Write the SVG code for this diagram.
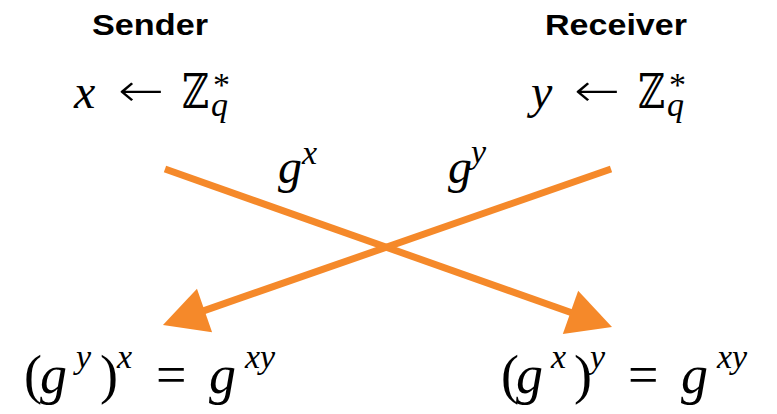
<svg xmlns="http://www.w3.org/2000/svg" width="777" height="414" viewBox="0 0 777 414">
<style>
.lbl{font-family:"Liberation Sans","Arial",sans-serif;font-weight:bold;font-size:29px;fill:#000}
.m{font-family:"Liberation Serif","DejaVu Serif",serif;font-style:italic;font-size:48px;fill:#000}
.b{font-size:54px}
.r{font-style:normal}
.ar{font-family:"DejaVu Sans",sans-serif;font-style:normal;font-weight:200;font-size:46px}
.s{font-size:34px}
.edge{stroke:#F5892A;stroke-width:7;fill:none}
</style>
<defs>
<marker id="ah" markerUnits="userSpaceOnUse" orient="auto" markerWidth="50" markerHeight="50" refX="14" refY="0" viewBox="0 -25 46 50">
<path d="M0,-23 L44,0 L0,23 Z" fill="#F5892A"/>
</marker>
</defs>
<rect width="777" height="414" fill="#fff"/>
<g id="sender">
<text class="lbl" x="150" y="35" text-anchor="middle" textLength="116" lengthAdjust="spacingAndGlyphs">Sender</text>
<text class="m" x="74" y="108">x</text>
<text class="m ar" x="118" y="106" textLength="46" lengthAdjust="spacingAndGlyphs">←</text>
<text class="m r" x="182" y="108" font-size="44" textLength="27" lengthAdjust="spacingAndGlyphs">ℤ</text>
<text class="m r s" x="213" y="96">*</text>
<text class="m s" x="211" y="116">q</text>
</g>
<g id="receiver">
<text class="lbl" x="616" y="35" text-anchor="middle" textLength="142" lengthAdjust="spacingAndGlyphs">Receiver</text>
<text class="m" x="531" y="108">y</text>
<text class="m ar" x="574" y="106" textLength="46" lengthAdjust="spacingAndGlyphs">←</text>
<text class="m r" x="638" y="108" font-size="44" textLength="27" lengthAdjust="spacingAndGlyphs">ℤ</text>
<text class="m r s" x="669" y="96">*</text>
<text class="m s" x="667" y="116">q</text>
</g>
<g id="connectors">
<line class="edge" x1="165" y1="169" x2="583.7" y2="317" marker-end="url(#ah)"/>
<line class="edge" x1="611" y1="169" x2="191.3" y2="315.1" marker-end="url(#ah)"/>
<text class="m" x="278" y="183">g</text>
<text class="m s" x="302" y="164">x</text>
<text class="m" x="448" y="183">g</text>
<text class="m s" x="471" y="163">y</text>
</g>
<g id="sender-result">
<text class="m b r" x="24" y="393">(</text>
<text class="m b" x="40" y="393">g</text>
<text class="m s" x="76" y="368">y</text>
<text class="m b r" x="100" y="393">)</text>
<text class="m s" x="117" y="368">x</text>
<text class="m b r" x="156" y="393">=</text>
<text class="m b" x="209" y="393">g</text>
<text class="m s" x="245" y="368">xy</text>
</g>
<g id="receiver-result">
<text class="m b r" x="501" y="393">(</text>
<text class="m b" x="516" y="393">g</text>
<text class="m s" x="551" y="368">x</text>
<text class="m b r" x="574" y="393">)</text>
<text class="m s" x="590" y="368">y</text>
<text class="m b r" x="628" y="393">=</text>
<text class="m b" x="681" y="393">g</text>
<text class="m s" x="717" y="368">xy</text>
</g>
</svg>
